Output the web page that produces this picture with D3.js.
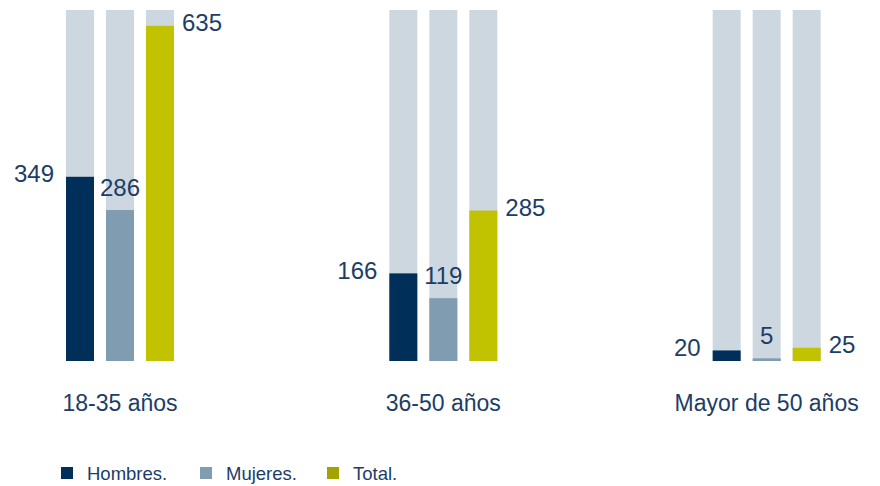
<!DOCTYPE html>
<html><head><meta charset="utf-8">
<script src="https://cdn.jsdelivr.net/npm/d3@7"></script>
<style>body{margin:0;background:#fff}svg{display:block;font-family:"Liberation Sans",Arial,sans-serif}</style>
</head><body><svg id="c" width="880" height="486"></svg>
<script>
const groups = ["18-35 años", "36-50 años", "Mayor de 50 años"];
const series = ["Hombres.", "Mujeres.", "Total."];
const hombres = [349, 166, 20];
const mujeres = [286, 119, 5];
const total = [635, 285, 25];
const colors = ["#00305a", "#7f9cb0", "#c2c300"];
const legendColors = ["#00305a", "#7f9cb0", "#a3a300"];
const bgColor = "#cdd7e0";
const textColor = "#1c3d66";

const svg = d3.select("#c");
const values = [hombres, mujeres, total];

const x0 = d3.scaleBand().domain(groups).range([66, 1036]).paddingInner(0).paddingOuter(0);
const x1 = d3.scaleBand().domain(series).range([0, 108]).paddingInner(0.3).paddingOuter(0);
const y = d3.scaleLinear().domain([0, 665]).range([361, 10]);

const data = [];
groups.forEach((g, gi) => series.forEach((s, si) => data.push({g, s, si, v: values[si][gi]})));

const gx = d => x0(d.g) + x1(d.s);

svg.selectAll("rect.bg").data(data).enter().append("rect")
  .attr("x", gx).attr("width", x1.bandwidth())
  .attr("y", y.range()[1]).attr("height", y.range()[0] - y.range()[1])
  .attr("fill", bgColor);

svg.selectAll("rect.bar").data(data).enter().append("rect")
  .attr("x", gx).attr("width", x1.bandwidth())
  .attr("y", d => y(d.v)).attr("height", d => y(0) - y(d.v))
  .attr("fill", d => colors[d.si]);

svg.selectAll("text.val").data(data).enter().append("text")
  .attr("font-size", 24).attr("fill", textColor)
  .attr("x", d => d.si === 0 ? gx(d) - 12 : d.si === 1 ? gx(d) + x1.bandwidth() / 2 : gx(d) + x1.bandwidth() + 8)
  .attr("y", d => d.si === 1 ? y(d.v) - 14 : y(d.v) - 3)
  .attr("dy", d => d.si === 1 ? 0 : "0.35em")
  .attr("text-anchor", d => d.si === 0 ? "end" : d.si === 1 ? "middle" : "start")
  .text(d => d.v);

svg.selectAll("text.grp").data(groups).enter().append("text")
  .attr("x", g => x0(g) + 54).attr("y", 411)
  .attr("text-anchor", "middle").attr("font-size", 23).attr("fill", textColor)
  .text(g => g);

const lx = [61, 200, 327];
const lg = svg.selectAll("g.leg").data(series).enter().append("g")
  .attr("transform", (s, i) => `translate(${lx[i]},467)`);
lg.append("rect").attr("width", 12).attr("height", 12).attr("fill", (s, i) => legendColors[i]);
lg.append("text").attr("x", 26).attr("y", 12.5).attr("font-size", 18.5).attr("fill", textColor).text(s => s);
</script></body></html>
